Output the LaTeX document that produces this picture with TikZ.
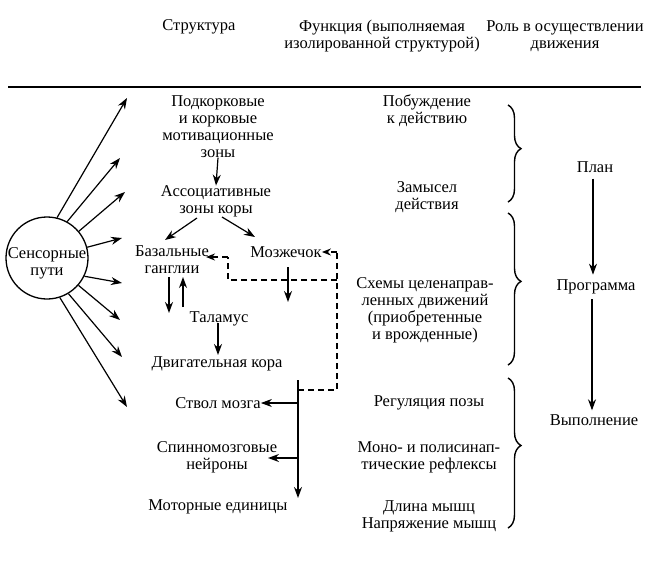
\documentclass[tikz,border=0pt]{standalone}
\usepackage{fontspec}
\setmainfont{Liberation Serif}
\usetikzlibrary{arrows.meta,decorations.pathreplacing}
\begin{document}
\begin{tikzpicture}[x=1pt,y=-1pt,
  lbl/.style={align=center,inner sep=0pt,font=\fontsize{16.5}{17}\selectfont},
  arr/.style={-{Stealth[length=11pt,width=8pt]},line width=1.2pt},
  dline/.style={dash pattern=on 6pt off 4pt,line width=1.7pt},
  dtip/.style={-{Stealth[length=9pt,width=7pt]}},
  bracefig/.style={decorate,decoration={brace,amplitude=13pt,aspect=0.45},line width=1.4pt}
]
\useasboundingbox (0,0) rectangle (649,579);
% header
\node[lbl] (h1) at (199,27) {Структура};
\node[lbl] (h2) at (382,36) {Функция (выполняемая\\изолированной структурой)};
\node[lbl] (h3) at (565,36) {Роль в осуществлении\\движения};
\coordinate (r1) at (8,87);
\coordinate (r2) at (641,87);
\draw[line width=2.8pt] (r1) -- (r2);
% sensory circle
\node[circle,draw,line width=1.3pt,minimum size=82pt,inner sep=0pt] (S) at (47,258) {};
\node[lbl] (Stxt) at (47,263) {Сенсорные\\пути};
\coordinate (t1) at (127,98);
\coordinate (t2) at (120,158);
\coordinate (t3) at (125,192);
\coordinate (t4) at (122,238);
\coordinate (t5) at (122,283);
\coordinate (t6) at (120,320);
\coordinate (t7) at (122,357);
\coordinate (t8) at (127,407);
\draw[arr] (S.76) -- (t1);
\draw[arr] (S.61) -- (t2);
\draw[arr] (S.40) -- (t3);
\draw[arr] (S.15) -- (t4);
\draw[arr] (S.-26) -- (t5);
\draw[arr] (S.-41) -- (t6);
\draw[arr] (S.-59) -- (t7);
\draw[arr] (S.-72) -- (t8);
% structure column
\node[lbl] (mot) at (218,126.5) {Подкорковые\\и корковые\\мотивационные\\зоны};
\node[lbl] (assoc) at (216,201.5) {Ассоциативные\\зоны коры};
\node[lbl] (bas) at (172,260) {Базальные\\ганглии};
\node[lbl] (cer) at (286,252) {Мозжечок};
\node[lbl] (thal) at (219,319) {Таламус};
\node[lbl] (motc) at (217,364) {Двигательная кора};
\node[lbl] (stem) at (218,403) {Ствол мозга};
\node[lbl] (spin) at (217,457.5) {Спинномозговые\\нейроны};
\node[lbl] (mu) at (218,507) {Моторные единицы};
\draw[arr] (mot.south) -- (assoc.north);
\coordinate (a1) at (197,218);
\coordinate (a2) at (165,240);
\coordinate (a3) at (222,217);
\coordinate (a4) at (255,237);
\draw[arr] (a1) -- (a2);
\draw[arr] (a3) -- (a4);
\coordinate (b1) at (169,277);
\coordinate (b2) at (169,313);
\coordinate (b3) at (183,307);
\coordinate (b4) at (183,277);
\draw[arr] (b1) -- (b2);
\draw[arr] (b3) -- (b4);
\coordinate (c1) at (218,323);
\coordinate (c2) at (218,355);
\draw[arr] (c1) -- (c2);
\coordinate (m1) at (288,267);
\coordinate (m2) at (288,302);
\draw[arr] (m1) -- (m2);
% solid descending line
\coordinate (v1) at (298,380);
\coordinate (v2) at (298,498);
\coordinate (v3) at (298,403);
\coordinate (v4) at (298,458);
\coordinate (s2) at (268,458);
\draw[arr] (v1) -- (v2);
\draw[arr] (v3) -- (stem.east);
\draw[arr] (v4) -- (s2);
% dashed feedback
\coordinate (d1) at (298,390);
\coordinate (d2) at (337,390);
\coordinate (d3) at (337,252);
\coordinate (d4) at (337,280);
\coordinate (d5) at (228,280);
\coordinate (d6) at (228,257);
\coordinate (d7) at (206,257);
\draw[dline] (d1) -- (d2) -- (d3);
\draw[dline,dtip] (d3) -- (cer.east);
\draw[dline] (d4) -- (d5) -- (d6);
\draw[dline,dtip] (d6) -- (d7);
% function column
\node[lbl] (f1) at (427,110.5) {Побуждение\\к действию};
\node[lbl] (f2) at (427,197) {Замысел\\действия};
\node[lbl] (f3) at (425,310) {Схемы целенаправ-\\ленных движений\\(приобретенные\\и врожденные)};
\node[lbl] (f4) at (429,403) {Регуляция позы};
\node[lbl] (f5) at (429,457) {Моно- и полисинап-\\тические рефлексы};
\node[lbl] (f6) at (429,516) {Длина мышц\\Напряжение мышц};
% braces
\coordinate (br1a) at (508,105);
\coordinate (br1b) at (508,202);
\coordinate (br2a) at (508,213);
\coordinate (br2b) at (508,365);
\coordinate (br3a) at (508,378);
\coordinate (br3b) at (508,528);
\draw[bracefig] (br1a) -- (br1b);
\draw[bracefig] (br2a) -- (br2b);
\draw[bracefig] (br3a) -- (br3b);
% role column
\node[lbl] (plan) at (595,167) {План};
\node[lbl] (prog) at (596,287) {Программа};
\node[lbl] (exec) at (594,420) {Выполнение};
\draw[arr,shorten <=6pt,shorten >=5pt] (plan.south -| 593,0) -- (prog.north -| 593,0);
\draw[arr,shorten <=5pt,shorten >=4pt] (prog.south -| 592,0) -- (exec.north -| 592,0);
\end{tikzpicture}
\end{document}
